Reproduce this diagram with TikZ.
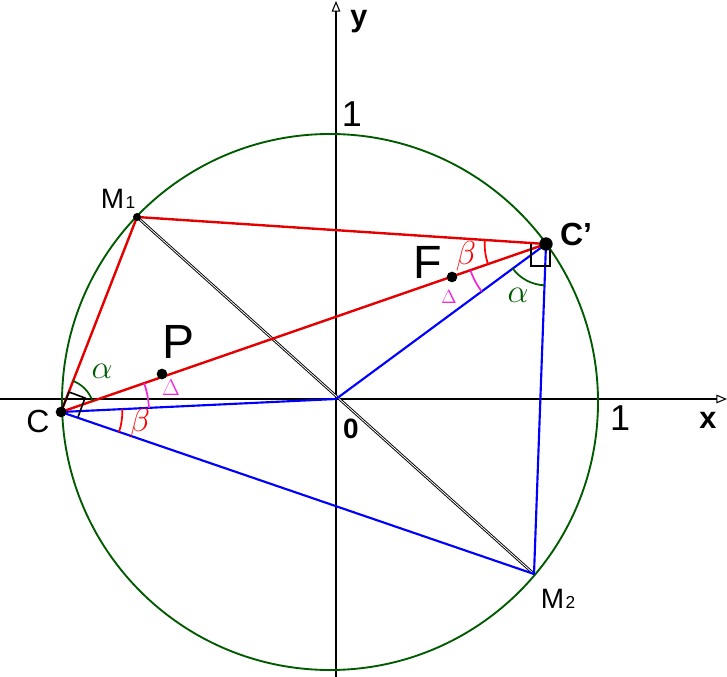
\documentclass[tikz,border=0pt]{standalone}
\usepackage{fontspec}
\setmainfont{Liberation Sans}
\usetikzlibrary{arrows.meta,angles}
\definecolor{cgreen}{RGB}{0,90,0}
\definecolor{cmag}{RGB}{240,40,220}
\tikzset{
  axisline/.style={line width=1.5pt,-{Triangle[open,length=8pt,width=6.5pt,line width=0.8pt]}},
  redline/.style={red!90!black,line width=1.8pt},
  blueline/.style={blue,line width=1.6pt},
  chord/.style={black,double=white,double distance=0.6pt,line width=0.7pt},
  tick/.style={fill=black,circle,inner sep=0pt,minimum size=8pt},
  lbl/.style={inner sep=0pt,black}
}
\begin{document}
\begin{tikzpicture}[x=0.75pt,y=-0.75pt]
    \useasboundingbox (0,0) rectangle (727,677);
    % points of the figure, in pixels of the drawing
    \coordinate (origin) at (336,399);
    \coordinate (centre) at (330,402);
    \coordinate (C) at (61,412);
    \coordinate (Cp) at (546,244);
    \coordinate (Mone) at (137,217);
    \coordinate (Mtwo) at (534,574);
    \coordinate (P) at (162,374);
    \coordinate (F) at (452,277);
    % axes
    \coordinate (xleft) at (0,399);
    \coordinate (xright) at (727,399);
    \coordinate (ybottom) at (336,677);
    \coordinate (ytop) at (336,1);
    \draw[axisline] (xleft) -- (xright);
    \draw[axisline] (ybottom) -- (ytop);
    \draw[cgreen,line width=1.4pt] (centre) circle[radius=268];
    % chord through the origin
    \draw[chord] (Mone) -- (Mtwo);
    % triangles
    \draw[blueline] (C) -- (origin);
    \draw[blueline] (C) -- (Mtwo);
    \draw[blueline] (origin) -- (Cp);
    \draw[blueline] (Cp) -- (Mtwo);
    \draw[redline] (C) -- (Mone);
    \draw[redline] (Mone) -- (Cp);
    \draw[redline] (C) -- (Cp);
    % right angles
    \draw[line width=1.2pt] (C) -- ++(8,-20) -- ++(16,6) -- ++(-7,19);
    \draw[line width=1.4pt] (531,244) -- (531,266) -- (550,266) -- (550,250);
    % angles
    \pic[draw=cgreen,line width=1.3pt,angle radius=25pt] {angle = Cp--C--Mone};
    \pic[draw=cmag,line width=1.3pt,angle radius=66pt] {angle = origin--C--Cp};
    \pic[draw=red,line width=1.3pt,angle radius=46pt] {angle = Mtwo--C--origin};
    \pic[draw=red,line width=1.3pt,angle radius=46pt] {angle = Mone--Cp--C};
    \pic[draw=cgreen,line width=1.3pt,angle radius=31pt] {angle = origin--Cp--Mtwo};
    \pic[draw=cmag,line width=1.3pt,angle radius=60pt] {angle = C--Cp--origin};
    % points
    \node[tick] (Cdot) at (C) {};
    \node[tick,minimum size=10pt] (Cpdot) at (Cp) {};
    \node[tick,minimum size=6pt] (Monedot) at (Mone) {};
    \node[tick] (Pdot) at (P) {};
    \node[tick] (Fdot) at (F) {};
    % labels
    \node[lbl,font=\fontsize{36}{36}\selectfont] (Plab) at (179,342) {P};
    \node[lbl,font=\fontsize{35}{35}\selectfont] (Flab) at (428,262) {F};
    \node[lbl,font=\fontsize{24}{24}\selectfont\bfseries] (Cplab) at (576,234) {C'};
    \node[lbl,font=\fontsize{24}{24}\selectfont] (Clab) at (38,421) {C};
    \node[lbl,font=\fontsize{21}{21}\selectfont] (Monelab) at (118,199) {M\kern1pt{\fontsize{13}{13}\selectfont 1}};
    \node[lbl,font=\fontsize{21}{21}\selectfont] (Mtwolab) at (558,599) {M\kern1pt{\fontsize{13}{13}\selectfont 2}};
    \node[lbl,font=\fontsize{27}{27}\selectfont] (yone) at (352,114) {1};
    \node[lbl,font=\fontsize{27}{27}\selectfont] (xone) at (620,418) {1};
    \node[lbl,font=\fontsize{21}{21}\selectfont\bfseries] (zero) at (351,429) {0};
    \node[lbl,font=\fontsize{23}{23}\selectfont\bfseries] (xlab) at (708,420) {x};
    \node[lbl,font=\fontsize{23}{23}\selectfont\bfseries] (ylab) at (359,22) {y};
    \node[lbl,text=cgreen,font=\fontsize{24}{24}\selectfont] (aone) at (102,371) {$\alpha$};
    \node[lbl,text=cgreen,font=\fontsize{31}{31}\selectfont] (atwo) at (518,295) {$\alpha$};
    \node[lbl,text=red,font=\fontsize{23}{23}\selectfont] (bone) at (140,423) {$\beta$};
    \node[lbl,text=red,font=\fontsize{23}{23}\selectfont] (btwo) at (466,256) {$\beta$};
    \node[lbl,text=cmag,font=\fontsize{19}{19}\selectfont] (done) at (171,388) {$\Delta$};
    \node[lbl,text=cmag,font=\fontsize{14}{14}\selectfont] (dtwo) at (449,297) {$\Delta$};
\end{tikzpicture}
\end{document}
